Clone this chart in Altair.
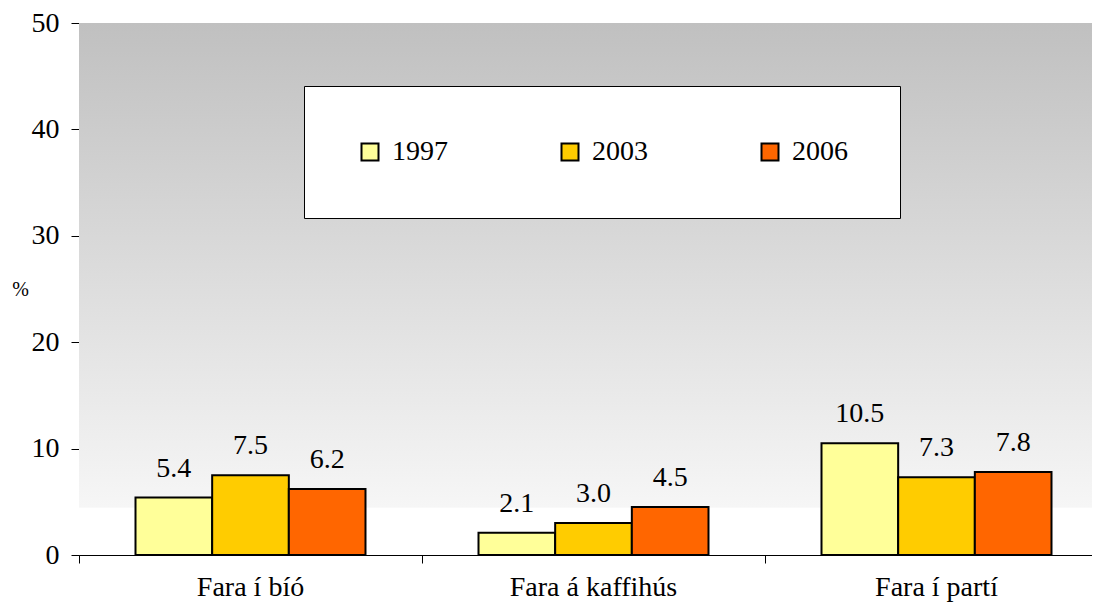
import altair as alt
import pandas as pd

categories = ["Fara í bíó", "Fara á kaffihús", "Fara í partí"]
years = ["1997", "2003", "2006"]
values_1997 = [5.4, 2.1, 10.5]
values_2003 = [7.5, 3.0, 7.3]
values_2006 = [6.2, 4.5, 7.8]
colors = ["#FFFF99", "#FFCC00", "#FF6600"]
y_ticks = [0, 10, 20, 30, 40, 50]

rows = []
for yr, vals in zip(years, [values_1997, values_2003, values_2006]):
    for c, v in zip(categories, vals):
        rows.append({"cat": c, "year": yr, "value": v})
df = pd.DataFrame(rows)

FONT = "Liberation Serif"
W = 1013      # visible plot width (chart fits the window)
XR = 1029     # x range, the last band runs past the window edge as in the reference
H = 532

x_enc = alt.X(
    "cat:N",
    sort=categories,
    scale=alt.Scale(paddingInner=0, paddingOuter=0, range=[0, XR]),
    axis=alt.Axis(
        title=None,
        bandPosition=0,
        labelAngle=0,
        labelFont=FONT,
        labelFontSize=28,
        labelColor="black",
        labelBaseline="alphabetic",
        labelPadding=32,
        domainColor="black",
        domainWidth=1,
        tickColor="black",
        tickSize=8,
        grid=False,
    ),
)
xoff = alt.XOffset("year:N", sort=years, scale=alt.Scale(paddingInner=0, paddingOuter=0.737))
y_enc = alt.Y(
    "value:Q",
    scale=alt.Scale(domain=[0, 50], nice=False),
    axis=alt.Axis(
        values=y_ticks,
        title="%",
        titleAngle=0,
        titleX=-59,
        titleY=H / 2,
        titleAlign="center",
        titleBaseline="middle",
        titleFont=FONT,
        titleFontSize=20,
        titleFontWeight="normal",
        titleColor="black",
        labelFont=FONT,
        labelFontSize=28,
        labelColor="black",
        labelPadding=12,
        tickSize=8,
        tickColor="black",
        domainColor="black",
        grid=False,
    ),
)

gradient = alt.LinearGradient(
    gradient="linear",
    x1=0, x2=0, y1=0, y2=1,
    stops=[
        alt.GradientStop(color="#c0c0c0", offset=0),
        alt.GradientStop(color="#f6f6f6", offset=0.91),
        alt.GradientStop(color="#ffffff", offset=0.912),
        alt.GradientStop(color="#ffffff", offset=1),
    ],
)

background = alt.Chart(pd.DataFrame({"bg": [0]})).mark_rect(fill=gradient).encode(
    x=alt.value(0), x2=alt.value(XR), y=alt.value(0), y2=alt.value(H)
)

bars = alt.Chart(df).mark_bar(stroke="black", strokeWidth=2).encode(
    x=x_enc,
    xOffset=xoff,
    y=y_enc,
    color=alt.Color(
        "year:N",
        sort=years,
        scale=alt.Scale(domain=years, range=colors),
        legend=alt.Legend(
            title=None,
            orient="none",
            legendX=225,
            legendY=63,
            direction="horizontal",
            columns=3,
            columnPadding=108,
            padding=52,
            fillColor="white",
            strokeColor="black",
            labelFont=FONT,
            labelFontSize=28,
            labelColor="black",
            labelOffset=8,
            symbolType="square",
            symbolSize=289,
            symbolStrokeColor="black",
            symbolStrokeWidth=2,
            symbolOpacity=1,
        ),
    ),
)

labels = alt.Chart(df).mark_text(
    font=FONT, fontSize=28, baseline="alphabetic", dy=-21, color="black"
).encode(
    x=alt.X("cat:N", sort=categories),
    xOffset=xoff,
    y="value:Q",
    text=alt.Text("value:Q", format=".1f"),
)

chart = (
    alt.layer(background, bars, labels)
    .properties(
        width=W,
        height=H,
        autosize=alt.AutoSizeParams(type="none"),
        padding={"left": 71, "top": 15, "right": 0, "bottom": 47},
        background="white",
    )
    .configure(font=FONT)
    .configure_text(font=FONT)
    .configure_legend(labelFont=FONT)
    .configure_axis(labelFont=FONT, titleFont=FONT)
    .configure_view(strokeWidth=0)
)

chart.save("out.html", embed_options={"renderer": "svg", "actions": False})
